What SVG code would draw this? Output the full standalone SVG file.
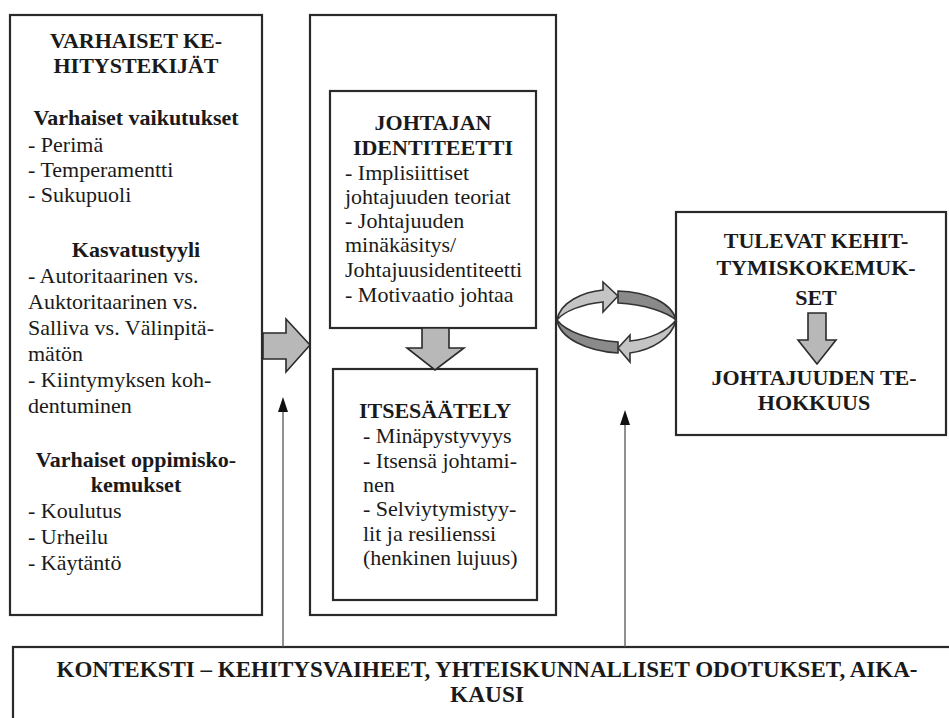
<svg xmlns="http://www.w3.org/2000/svg" width="949" height="718" viewBox="0 0 949 718">
<defs>
<style>
.box{fill:#fff;stroke:#2a2a2a;stroke-width:2.2}
.t{font-family:"Liberation Serif","Times New Roman",serif;font-size:22px;fill:#1a1a1a}
.b{font-weight:bold}
.c{text-anchor:middle}
.blk{fill:#b8b8b8;stroke:#2a2a2a;stroke-width:1.6;stroke-linejoin:miter}
.lt{fill:#c4c4c4;stroke:#333;stroke-width:1.6}
.dk{fill:#8a8a8a;stroke:#333;stroke-width:1.6}
.ln{stroke:#555;stroke-width:1.3;fill:none}
.hd{fill:#111}
</style>
</defs>
<rect width="949" height="718" fill="#fff"/>

<g id="varhaiset">
<rect class="box" x="10" y="15" width="252" height="600"/>
<text class="t b c" x="136" y="48">VARHAISET KE-</text>
<text class="t b c" x="136" y="73">HITYSTEKIJÄT</text>
<text class="t b c" x="136" y="125">Varhaiset vaikutukset</text>
<text class="t" x="28" y="152">- Perimä</text>
<text class="t" x="28" y="177">- Temperamentti</text>
<text class="t" x="28" y="202">- Sukupuoli</text>
<text class="t b c" x="136" y="257">Kasvatustyyli</text>
<text class="t" x="28" y="283">- Autoritaarinen vs.</text>
<text class="t" x="28" y="309">Auktoritaarinen vs.</text>
<text class="t" x="28" y="335">Salliva vs. Välinpitä-</text>
<text class="t" x="28" y="361">mätön</text>
<text class="t" x="28" y="387">- Kiintymyksen koh-</text>
<text class="t" x="28" y="413">dentuminen</text>
<text class="t b c" x="136" y="467">Varhaiset oppimisko-</text>
<text class="t b c" x="136" y="492">kemukset</text>
<text class="t" x="28" y="518">- Koulutus</text>
<text class="t" x="28" y="544">- Urheilu</text>
<text class="t" x="28" y="570">- Käytäntö</text>
</g>

<g id="keskus">
<rect class="box" x="310" y="15" width="246" height="600"/>
</g>

<g id="identiteetti">
<rect class="box" x="330" y="91" width="206" height="237"/>
<text class="t b c" x="433" y="130">JOHTAJAN</text>
<text class="t b c" x="433" y="155">IDENTITEETTI</text>
<text class="t" x="345" y="180">- Implisiittiset</text>
<text class="t" x="345" y="204">johtajuuden teoriat</text>
<text class="t" x="345" y="228">- Johtajuuden</text>
<text class="t" x="345" y="252">minäkäsitys/</text>
<text class="t" x="345" y="277">Johtajuusidentiteetti</text>
<text class="t" x="345" y="302">- Motivaatio johtaa</text>
</g>

<g id="itsesaately">
<rect class="box" x="333" y="369" width="204" height="231"/>
<text class="t b c" x="435" y="418">ITSESÄÄTELY</text>
<text class="t" x="363" y="443">- Minäpystyvyys</text>
<text class="t" x="363" y="468">- Itsensä johtami-</text>
<text class="t" x="363" y="492">nen</text>
<text class="t" x="363" y="516">- Selviytymistyy-</text>
<text class="t" x="363" y="541">lit ja resilienssi</text>
<text class="t" x="363" y="565">(henkinen lujuus)</text>
</g>

<g id="tulevat">
<rect class="box" x="676" y="212" width="270" height="223"/>
<text class="t b c" x="816" y="248">TULEVAT KEHIT-</text>
<text class="t b c" x="816" y="275">TYMISKOKEMUK-</text>
<text class="t b c" x="816" y="305">SET</text>
<text class="t b c" x="814" y="385">JOHTAJUUDEN TE-</text>
<text class="t b c" x="814" y="410">HOKKUUS</text>
</g>

<g id="konteksti">
<rect class="box" x="13" y="647" width="950" height="90"/>
<text class="t b c" x="487" y="677" textLength="861" lengthAdjust="spacingAndGlyphs" style="font-size:23px">KONTEKSTI – KEHITYSVAIHEET, YHTEISKUNNALLISET ODOTUKSET, AIKA-</text>
<text class="t b c" x="487" y="702" textLength="74" lengthAdjust="spacingAndGlyphs" style="font-size:23px">KAUSI</text>
</g>

<g id="connectors">
<path class="blk" d="M263,333 L286,333 L286,319 L310,345 L286,372 L286,359 L263,359 Z"/>
<path class="blk" d="M422,328 L449,328 L449,348 L464,348 L435,370 L407,348 L422,348 Z"/>
<path class="blk" d="M808,313 L826,313 L826,340 L836,340 L817,364 L798,340 L808,340 Z"/>
<line class="ln" x1="283" y1="647" x2="283" y2="410"/>
<path class="hd" d="M283,397 L288,412 L278,412 Z"/>
<line class="ln" x1="625" y1="647" x2="625" y2="423"/>
<path class="hd" d="M625,410 L630,425 L620,425 Z"/>
<g id="sykli">
<path class="dk" d="M618,291 C648,292 672,303 676,320 C668,313 645,304 618,303 Z"/>
<path class="lt" d="M557,320 C560,302 583,292 603,290 L603,282 L618,296 L603,312 L603,302 C583,304 564,311 557,320 Z"/>
<path class="dk" d="M557,320 C560,338 586,351 618,353 L618,342 C590,340 566,332 557,320 Z"/>
<path class="lt" d="M676,320 C672,338 652,350 630,353 L630,362 L618,348 L630,335 L630,341 C650,339 668,331 676,320 Z"/>
</g>
</g>
</svg>
